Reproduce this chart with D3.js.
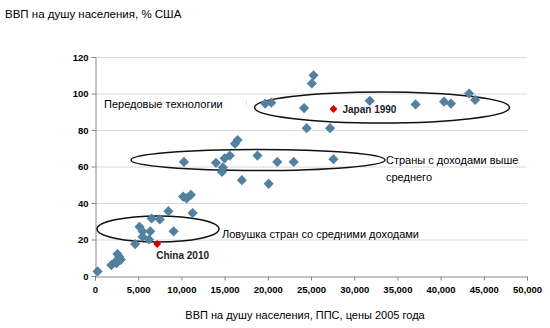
<!DOCTYPE html>
<html>
<head>
<meta charset="utf-8">
<script src="https://cdn.jsdelivr.net/npm/d3@7"></script>
<style>
  body { margin: 0; background: #fff; }
  text { font-family: "Liberation Sans", Arial, sans-serif; }
</style>
</head>
<body>
<div id="chart-area"></div>
<script>
// GDP per capita (PPP, 2005 prices) vs GDP per capita as % of the US
var gdp = [300, 1900, 2300, 2500, 2600, 2800, 3000, 4650, 5150, 5500, 5500, 6250, 6400, 6550,
	7500, 8500, 9100, 10200, 10600, 11100, 11300, 10300, 14000, 14700, 14800, 15000, 15600,
	16200, 16500, 17000, 18800, 20100, 21100, 23000, 27600, 19700, 20400, 24200, 24500,
	25100, 25300, 27200, 31800, 37100, 40400, 41200, 43300, 44000];
var pctUS = [2.5, 6, 7.5, 7, 12, 10.5, 9, 17.5, 27, 24.5, 21.5, 20, 24.5, 31.5,
	31, 35.5, 24.5, 43.5, 42.5, 44.5, 34.5, 62.5, 62, 57, 59.5, 64.5, 66,
	72.5, 74.5, 52.5, 66, 50.5, 62.5, 62.5, 64, 94.5, 95, 92, 81,
	105.5, 110, 81, 96, 94, 95.5, 94.5, 100, 96.5];

var markedNames = ["China 2010", "Japan 1990"];
var markedGdp = [7200, 27600];
var markedPct = [17.5, 91.5];

var xTicks = [0, 5000, 10000, 15000, 20000, 25000, 30000, 35000, 40000, 45000, 50000];
var yTicks = [0, 20, 40, 60, 80, 100, 120];

var points = gdp.map((g, i) => ({ x: g, y: pctUS[i] }));
var marked = markedNames.map((n, i) => ({ name: n, x: markedGdp[i], y: markedPct[i] }));

var width = 550;
var height = 328;

var svg = d3.select("#chart-area")
	.append("svg")
	.attr("width", width)
	.attr("height", height);

svg.append("rect")
	.attr("width", width)
	.attr("height", height)
	.attr("fill", "#fff");

var x = d3.scaleLinear()
	.domain([0, 50000])
	.range([95, 527]);
var y = d3.scaleLinear()
	.domain([0, 120])
	.range([276, 57]);

// gridlines
svg.append("g")
	.selectAll("line")
	.data(yTicks.filter(d => d > 0))
	.enter()
	.append("line")
	.attr("x1", x(0))
	.attr("x2", x(50000))
	.attr("y1", d => y(d) + 0.5)
	.attr("y2", d => y(d) + 0.5)
	.attr("stroke", "#d9d9d9")
	.attr("stroke-width", 1);

// axes
var xAxisCall = d3.axisBottom(x)
	.tickValues(xTicks)
	.tickSize(4)
	.tickFormat(d3.format(","));
var xAxisGroup = svg.append("g")
	.attr("transform", `translate(0, ${y(0) + 0.5})`)
	.call(xAxisCall);

var yAxisCall = d3.axisLeft(y)
	.tickValues(yTicks)
	.tickSize(4)
	.tickFormat(d3.format("d"));
var yAxisGroup = svg.append("g")
	.attr("transform", `translate(${x(0) + 0.5}, 0)`)
	.call(yAxisCall);

[xAxisGroup, yAxisGroup].forEach(g => {
	g.select(".domain").attr("stroke", "#868686");
	g.selectAll(".tick line").attr("stroke", "#868686");
	g.selectAll(".tick text")
		.attr("font-family", "'Liberation Sans', Arial, sans-serif")
		.attr("font-size", "9.5px")
		.attr("font-weight", "bold")
		.attr("fill", "#000");
});
xAxisGroup.selectAll(".tick text").attr("dy", "0.95em");
yAxisGroup.selectAll(".tick text").attr("x", -7);

// group outlines
var ellipses = [
	{ cx: 158, cy: 229, rx: 61, ry: 13 },
	{ cx: 258, cy: 160, rx: 127, ry: 10.5 },
	{ cx: 382, cy: 107.5, rx: 127.5, ry: 15.5 }
];
svg.append("g")
	.selectAll("ellipse")
	.data(ellipses)
	.enter()
	.append("ellipse")
	.attr("cx", d => d.cx)
	.attr("cy", d => d.cy)
	.attr("rx", d => d.rx)
	.attr("ry", d => d.ry)
	.attr("fill", "none")
	.attr("stroke", "#111")
	.attr("stroke-width", 1.5);

// points
var diamond = d3.symbol().type(d3.symbolDiamond2);
svg.append("g")
	.selectAll("path")
	.data(points)
	.enter()
	.append("path")
	.attr("d", diamond.size(66)())
	.attr("transform", d => `translate(${x(d.x)}, ${y(d.y)})`)
	.attr("fill", "#52809f");

svg.append("g")
	.selectAll("path")
	.data(marked)
	.enter()
	.append("path")
	.attr("d", diamond.size(40)())
	.attr("transform", d => `translate(${x(d.x)}, ${y(d.y)})`)
	.attr("fill", "#d40000");

svg.append("text")
	.attr("x", x(markedGdp[0]) - 1)
	.attr("y", y(markedPct[0]) + 15)
	.attr("font-size", "10px")
	.attr("font-weight", "bold")
	.attr("fill", "#1a1a2a")
	.text(markedNames[0]);

svg.append("text")
	.attr("x", x(markedGdp[1]) + 9)
	.attr("y", y(markedPct[1]) + 4)
	.attr("font-size", "10px")
	.attr("font-weight", "bold")
	.attr("fill", "#1a1a2a")
	.text(markedNames[1]);

// group labels
var labels = [
	{ x: 104, y: 108, t: "Передовые технологии" },
	{ x: 386, y: 164, t: "Страны с доходами выше" },
	{ x: 386, y: 181, t: "среднего" },
	{ x: 222, y: 238, t: "Ловушка стран со средними доходами" }
];
svg.append("g")
	.selectAll("text")
	.data(labels)
	.enter()
	.append("text")
	.attr("x", d => d.x)
	.attr("y", d => d.y)
	.attr("font-size", "11px")
	.attr("fill", "#000")
	.text(d => d.t);

svg.append("line")
	.attr("x1", 246.5).attr("x2", 246.5)
	.attr("y1", 101).attr("y2", 106)
	.attr("stroke", "#a8d4f0")
	.attr("stroke-dasharray", "1,1");

// axis titles
svg.append("text")
	.attr("x", 5)
	.attr("y", 18)
	.attr("font-size", "11.5px")
	.attr("fill", "#000")
	.text("ВВП на душу населения, % США");

svg.append("text")
	.attr("x", 305)
	.attr("y", 319)
	.attr("text-anchor", "middle")
	.attr("font-size", "11px")
	.attr("fill", "#000")
	.text("ВВП на душу населения, ППС, цены 2005 года");
</script>
</body>
</html>
